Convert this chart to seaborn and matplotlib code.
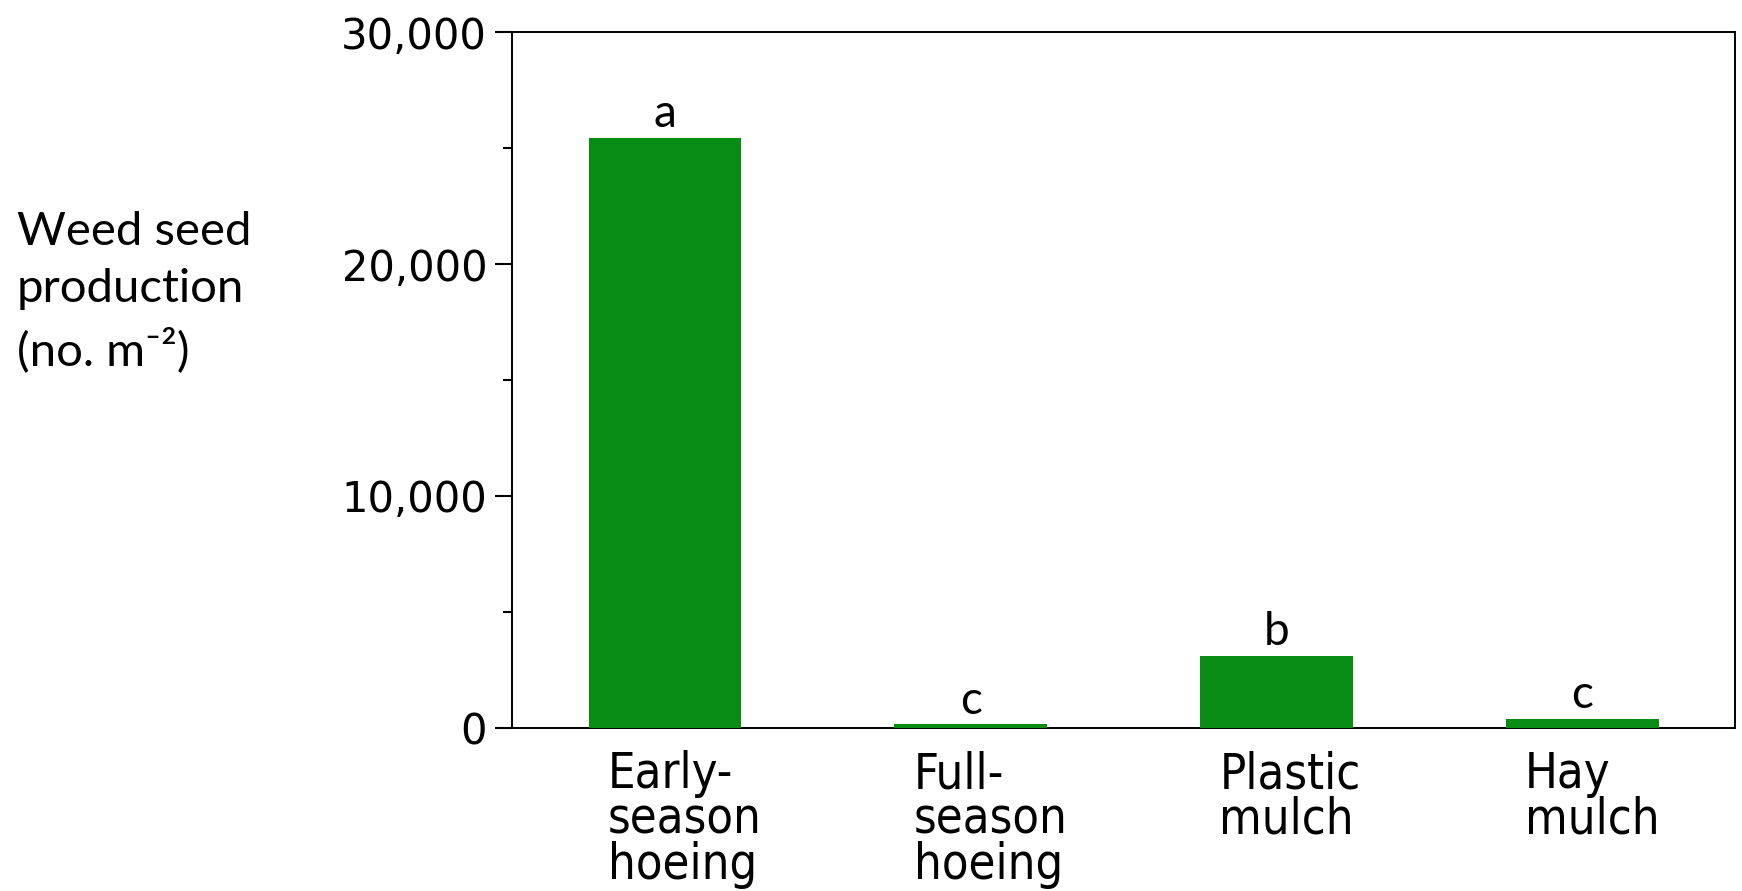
import numpy as np
import pandas as pd
import seaborn as sns
import matplotlib.pyplot as plt
import matplotlib.transforms as mtransforms
from matplotlib.ticker import MultipleLocator, FuncFormatter

treatments = ["Early-\nseason\nhoeing", "Full-\nseason\nhoeing", "Plastic\nmulch", "Hay\nmulch"]
seed_counts = [25450, 150, 3100, 380]
letters = ["a", "c", "b", "c"]

BAR_GREEN = "#088c14"

sns.set_style("ticks")
plt.rcParams["font.family"] = ["DejaVu Sans"]
plt.rcParams["text.color"] = "black"
plt.rcParams["xtick.color"] = "black"
plt.rcParams["ytick.color"] = "black"
plt.rcParams["xtick.labelcolor"] = "black"
plt.rcParams["ytick.labelcolor"] = "black"

df = pd.DataFrame({"treatment": treatments, "seeds": seed_counts})

fig = plt.figure(figsize=(17.42, 8.91), dpi=100)
ax = fig.add_axes([0.294, 0.183, 0.702, 0.781])

sns.barplot(data=df, x="treatment", y="seeds", color=BAR_GREEN, width=0.5,
            saturation=1, linewidth=0, ax=ax)

ax.set_xlim(-0.5, 3.5)
ax.set_ylim(0, 30000)
ax.yaxis.set_major_locator(MultipleLocator(10000))
ax.yaxis.set_minor_locator(MultipleLocator(5000))
ax.yaxis.set_major_formatter(FuncFormatter(lambda v, p: f"{int(v):,}"))
ax.set_xlabel("")
ax.set_ylabel("")

for side in ["left", "bottom", "top", "right"]:
    ax.spines[side].set_visible(True)
    ax.spines[side].set_linewidth(1.4)
    ax.spines[side].set_color("black")
    ax.spines[side].set_zorder(0.5)

ax.tick_params(axis="y", which="major", direction="out", length=12, width=1.5,
               labelsize=30, pad=6)
ax.tick_params(axis="y", which="minor", direction="out", length=6.5, width=1.5)
ax.tick_params(axis="x", which="major", length=0, pad=16)

# x labels are left aligned blocks sitting a bit left of the bar centre
shift = mtransforms.ScaledTranslation(-0.57, 0, fig.dpi_scale_trans)
for lab in ax.get_xticklabels():
    lab.set_family(["Liberation Sans Narrow", "DejaVu Sans"])
    lab.set_stretch("condensed")
    lab.set_fontsize(35)
    lab.set_ha("left")
    lab.set_multialignment("left")
    lab.set_linespacing(0.93)
    lab.set_transform(lab.get_transform() + shift)

for i, (v, l) in enumerate(zip(seed_counts, letters)):
    ax.annotate(l, xy=(i, v), xytext=(0, 2), textcoords="offset points",
                ha="center", va="bottom", fontsize=33,
                family=["Lato", "DejaVu Sans"])

fig.text(0.0098, 0.672, "Weed seed\nproduction\n(no. m\u207b\u00b2)",
         ha="left", va="center", fontsize=34, linespacing=1.45,
         family=["Lato", "DejaVu Sans"])

fig.savefig("out.png", dpi=100)
